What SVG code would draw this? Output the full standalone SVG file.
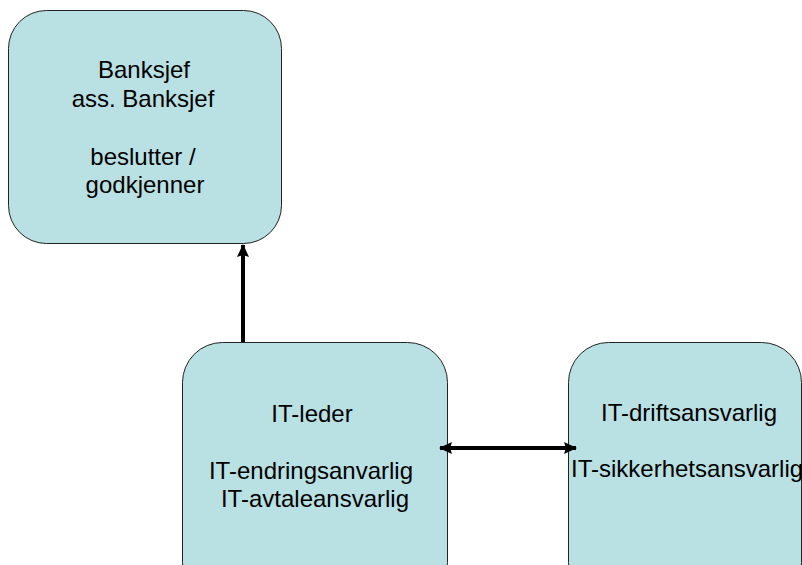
<svg xmlns="http://www.w3.org/2000/svg" width="802" height="565" viewBox="0 0 802 565">
<style>
.box{fill:#B9E0E3;stroke:#222;stroke-width:1}
.t{font-family:"Liberation Sans",Arial,sans-serif;font-size:24px;fill:#000;text-anchor:middle}
.c{stroke:#000;stroke-width:4;fill:none}
</style>
<defs>
<marker id="ah" viewBox="0 0 13 12" refX="12" refY="6" markerWidth="13" markerHeight="12" markerUnits="userSpaceOnUse" orient="auto-start-reverse">
<path d="M0,0 L13,6 L0,12 L2,6 Z" fill="#000"/>
</marker>
</defs>
<g id="node-banksjef">
<rect class="box" x="8.5" y="10.5" width="273" height="233" rx="38"/>
<text class="t" x="144" y="78">Banksjef</text>
<text class="t" x="143" y="107">ass. Banksjef</text>
<text class="t" x="143" y="165">beslutter /</text>
<text class="t" x="145" y="193">godkjenner</text>
</g>
<g id="node-itleder">
<rect class="box" x="182.5" y="342.5" width="265" height="260" rx="40"/>
<text class="t" x="312" y="422">IT-leder</text>
<text class="t" x="311" y="479">IT-endringsanvarlig</text>
<text class="t" x="315" y="507">IT-avtaleansvarlig</text>
</g>
<g id="node-itdrift">
<rect class="box" x="568.5" y="342.5" width="233" height="260" rx="40"/>
<text class="t" x="689" y="421">IT-driftsansvarlig</text>
<text class="t" x="571" y="477" style="text-anchor:start">IT-sikkerhetsansvarlig</text>
</g>
<g id="connectors">
<line class="c" x1="243" y1="342" x2="243" y2="245" marker-end="url(#ah)"/>
<line class="c" x1="440" y1="448" x2="576" y2="448" marker-start="url(#ah)" marker-end="url(#ah)"/>
</g>
</svg>
